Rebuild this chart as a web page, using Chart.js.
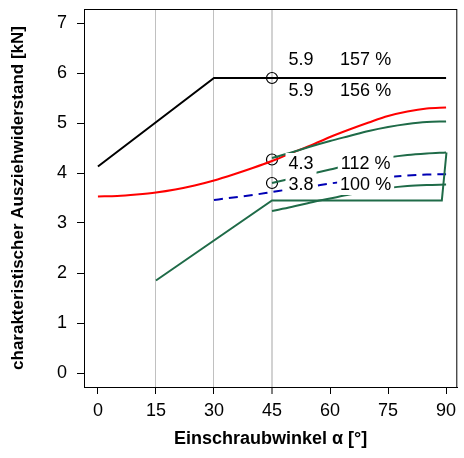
<!DOCTYPE html>
<html>
<head>
<meta charset="utf-8">
<script src="https://cdn.jsdelivr.net/npm/chart.js@4/dist/chart.umd.min.js"></script>
<style>
  html, body { margin: 0; padding: 0; background: #fff; }
  #wrap { width: 464px; height: 458px; }
</style>
</head>
<body>
<div id="wrap"><canvas id="chart" width="464" height="458"></canvas></div>
<script>
// values
const xTicks = [0, 15, 30, 45, 60, 75, 90];
const yTicks = [0, 1, 2, 3, 4, 5, 6, 7];
const gridAngles = [15, 30, 45];

const redAngles = [0, 5, 10, 15, 20, 25, 30, 35, 40, 45, 50, 55, 60, 65, 70, 75, 80, 85, 90];
const redValues = [3.53, 3.54, 3.57, 3.61, 3.67, 3.75, 3.85, 3.97, 4.10, 4.24, 4.40, 4.55, 4.72, 4.87, 5.01, 5.14, 5.23, 5.29, 5.31];

const upperAngles = [45, 50, 55, 60, 65, 70, 75, 80, 85, 90];
const green2Values = [4.30, 4.41, 4.53, 4.64, 4.74, 4.84, 4.92, 4.98, 5.02, 5.03];
const green3Values = [3.80, 3.89, 3.98, 4.07, 4.16, 4.24, 4.31, 4.36, 4.39, 4.41];
const green4Values = [3.24, 3.32, 3.41, 3.49, 3.57, 3.64, 3.70, 3.74, 3.76, 3.77];

const blueAngles = [30, 35, 40, 45, 50, 55, 60, 65, 70, 75, 80, 85, 90];
const blueValues = [3.46, 3.51, 3.56, 3.62, 3.68, 3.73, 3.79, 3.84, 3.89, 3.92, 3.95, 3.97, 3.975];

const blackAngles = [0, 30, 90];
const blackValues = [4.13, 5.90, 5.90];
const blackDashAngles = [30, 90];
const blackDashValues = [5.91, 5.91];

const greenLineAngles = [15, 45, 88.9, 90.1];
const greenLineValues = [1.85, 3.45, 3.45, 4.41];

const markerAngles = [45, 45, 45];
const markerValues = [5.90, 4.27, 3.80];

const labelValues = ['5.9', '5.9', '4.3', '3.8'];
const labelPercents = ['157 %', '156 %', '112 %', '100 %'];
const labelRows = [6.28, 5.66, 4.20, 3.78];
const labelValueX = 52.5;
const labelPercentX = 69.2;

const GREEN = '#1f6b48';
const FONT = '"Liberation Sans", Arial, sans-serif';

function pts(xs, ys) {
  return xs.map((x, i) => ({ x: x, y: ys[i] }));
}

function lineSet(xs, ys, color, extra) {
  return Object.assign({
    data: pts(xs, ys), showLine: true, borderColor: color, borderWidth: 2,
    pointRadius: 0, fill: false, cubicInterpolationMode: 'monotone'
  }, extra || {});
}

// box around the plot and the white-backed labels
const overlay = {
  id: 'overlay',
  afterDatasetsDraw(chart) {
    const ctx = chart.ctx;
    const a = chart.chartArea;
    const xs = chart.scales.x, ys = chart.scales.y;
    ctx.save();
    ctx.font = '18px ' + FONT;
    ctx.textAlign = 'center';
    ctx.textBaseline = 'middle';
    labelRows.forEach((row, i) => {
      const py = ys.getPixelForValue(row);
      [[labelValues[i], labelValueX], [labelPercents[i], labelPercentX]].forEach(([txt, ax]) => {
        const px = xs.getPixelForValue(ax);
        const w = ctx.measureText(txt).width;
        ctx.fillStyle = '#fff';
        ctx.fillRect(px - w / 2 - 3, py - 10, w + 6, 21);
        ctx.fillStyle = '#000';
        ctx.fillText(txt, px, py + 1);
      });
    });
    ctx.strokeStyle = '#000';
    ctx.lineWidth = 1;
    ctx.strokeRect(a.left + 0.5, a.top + 0.5, a.right - a.left - 1, a.bottom - a.top);
    ctx.restore();
  }
};

Chart.defaults.color = '#000';
Chart.defaults.font.family = FONT;

new Chart(document.getElementById('chart').getContext('2d'), {
  type: 'scatter',
  data: {
    datasets: [
      lineSet(greenLineAngles, greenLineValues, GREEN, { cubicInterpolationMode: 'default', tension: 0 }),
      lineSet(upperAngles, green4Values, GREEN),
      lineSet(upperAngles, green3Values, GREEN),
      lineSet(upperAngles, green2Values, GREEN),
      lineSet(blueAngles, blueValues, '#0000b4', { borderDash: [9, 6] }),
      lineSet(redAngles, redValues, '#ff0000'),
      lineSet(blackAngles, blackValues, '#000', { cubicInterpolationMode: 'default', tension: 0 }),
      lineSet(blackDashAngles, blackDashValues, '#444', { borderDash: [8, 5], borderWidth: 1 }),
      {
        data: pts(markerAngles, markerValues), showLine: false,
        pointStyle: 'circle', pointRadius: 5.5, pointBorderWidth: 1.2,
        pointBorderColor: '#000', pointBackgroundColor: 'rgba(0,0,0,0)'
      }
    ]
  },
  options: {
    responsive: false,
    animation: false,
    layout: { padding: { top: 9, right: 0, left: 0, bottom: 0 } },
    plugins: { legend: { display: false }, tooltip: { enabled: false } },
    scales: {
      x: {
        // the layout keeps a few px on the right, so the range ends a bit early
        type: 'linear', min: -3.6, max: 92.9,
        afterBuildTicks: s => { s.ticks = xTicks.map(v => ({ value: v })); },
        afterFit: s => { s.height = 71; s.paddingLeft = 0; s.paddingRight = 0; },
        grid: {
          drawOnChartArea: true,
          color: c => (c.tick && gridAngles.includes(c.tick.value)) ? (c.tick.value === 45 ? '#d2d2d2' : '#c0c0c0') : 'rgba(0,0,0,0)',
          lineWidth: c => (c.tick && c.tick.value === 45) ? 2 : 1,
          tickColor: '#000', tickLength: 7, tickWidth: 1
        },
        border: { display: true, color: '#000', width: 1 },
        ticks: { font: { size: 18 }, padding: 6, maxRotation: 0, autoSkip: false },
        title: {
          display: true, text: 'Einschraubwinkel \u03B1 [\u00B0]',
          font: { size: 18, weight: 'bold' }, padding: { top: 0, bottom: 8 }
        }
      },
      y: {
        type: 'linear', min: -0.28, max: 7.28,
        afterBuildTicks: s => { s.ticks = yTicks.map(v => ({ value: v })); },
        afterFit: s => { s.width = 84; s.paddingTop = 0; s.paddingBottom = 0; },
        grid: { drawOnChartArea: false, tickColor: '#000', tickLength: 7, tickWidth: 1 },
        border: { display: true, color: '#000', width: 1 },
        ticks: { font: { size: 18 }, padding: 10, autoSkip: false },
        title: {
          display: true, text: 'charakteristischer Ausziehwiderstand [kN]',
          font: { size: 17, weight: 'bold' }, padding: { top: 8, bottom: 0 }
        }
      }
    }
  },
  plugins: [overlay]
});
</script>
</body>
</html>
